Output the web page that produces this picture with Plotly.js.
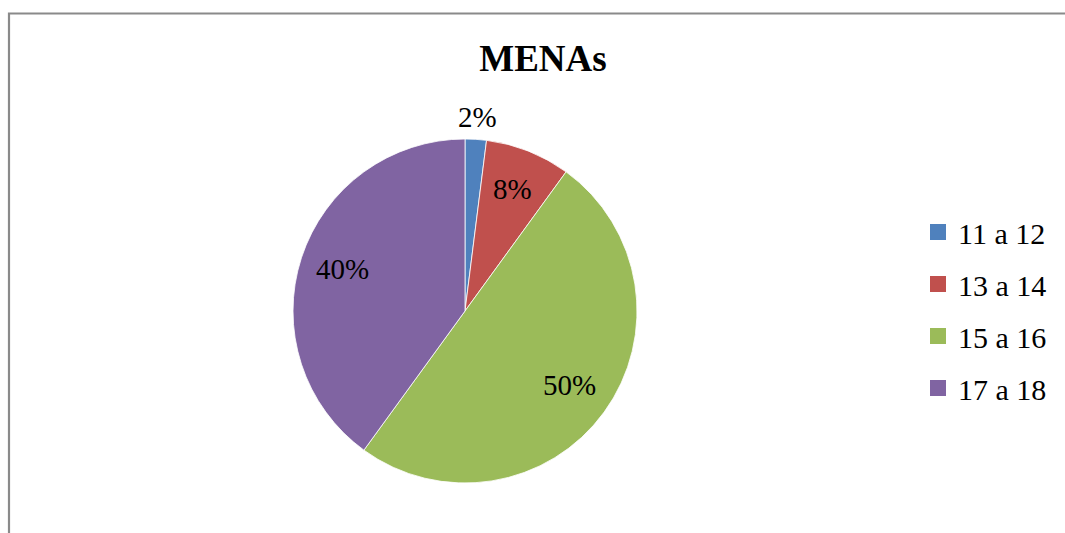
<!DOCTYPE html>
<html>
<head>
<meta charset="utf-8">
<script src="https://cdn.plot.ly/plotly-3.0.1.min.js"></script>
<style>html,body{margin:0;padding:0;background:#fff;}#chart{width:1065px;height:533px;}</style>
</head>
<body>
<div id="chart"></div>
<script>
const categories = ["11 a 12", "13 a 14", "15 a 16", "17 a 18"];
const values = [2, 8, 50, 40];
const colors = ["#4F81BD", "#C0504D", "#9BBB59", "#8064A2"];
const labelOutside = [true, false, false, false];
const chartTitle = "MENAs";

const W = 1065, H = 533;
const serif = "Liberation Serif";
const cx = 465, cy = 311, R = 172;

const pie = {
  type: "pie",
  labels: categories,
  values: values,
  sort: false,
  direction: "clockwise",
  rotation: 0,
  marker: {colors: colors, line: {color: "#ffffff", width: 0.8}},
  textinfo: "none",
  hoverinfo: "label+percent",
  showlegend: false,
  domain: {x: [(cx - R) / W, (cx + R) / W], y: [1 - (cy + R) / H, 1 - (cy - R) / H]},
  automargin: false
};

// legend entries, one per category, so they can be spaced like the original
const legendTraces = categories.map((c, i) => ({
  type: "scatter",
  mode: "markers",
  x: [null], y: [null],
  name: c,
  legendgroup: "g" + i,
  showlegend: true,
  hoverinfo: "skip",
  marker: {symbol: "square", size: 16, color: colors[i]}
}));

// percentage labels placed along each slice bisector ("best fit" style)
const total = values.reduce((a, b) => a + b, 0);
let cum = 0;
const annotations = values.map((v, i) => {
  const mid = (cum + v / 2) / total;
  cum += v;
  const th = 2 * Math.PI * mid;
  const d = R * (labelOutside[i] ? 1.12 : 0.75);
  const px = cx + d * Math.sin(th);
  const py = cy - d * Math.cos(th);
  return {
    xref: "paper", yref: "paper",
    x: px / W, y: 1 - py / H,
    xanchor: "center", yanchor: "middle",
    yshift: 2,
    showarrow: false,
    text: Math.round(v / total * 100) + "%",
    font: {family: serif, size: 29, color: "#000000"}
  };
});

const layout = {
  width: W, height: H,
  margin: {l: 0, r: 0, t: 0, b: 0},
  paper_bgcolor: "#ffffff",
  plot_bgcolor: "#ffffff",
  font: {family: serif, color: "#000000"},
  title: {
    text: "<b>" + chartTitle + "</b>",
    font: {family: serif, size: 37, color: "#000000"},
    x: 543 / W, xanchor: "center",
    y: 1 - 58 / H, yanchor: "middle",
    xref: "paper", yref: "paper"
  },
  xaxis: {visible: false},
  yaxis: {visible: false},
  showlegend: true,
  legend: {
    x: 918 / W, xanchor: "left",
    y: 1 - 310 / H, yanchor: "middle",
    traceorder: "grouped",
    tracegroupgap: 10,
    font: {family: serif, size: 30, color: "#000000"},
    bgcolor: "rgba(0,0,0,0)"
  },
  annotations: annotations,
  shapes: [{
    type: "path",
    xref: "paper", yref: "paper",
    path: "M " + (9 / W) + "," + 0 + " L " + (9 / W) + "," + (1 - 13.5 / H) + " L 1," + (1 - 13.5 / H),
    line: {color: "#8a8a8a", width: 2.2}
  }]
};

Plotly.newPlot("chart", [pie].concat(legendTraces), layout, {displayModeBar: false, staticPlot: true});
</script>
</body>
</html>
